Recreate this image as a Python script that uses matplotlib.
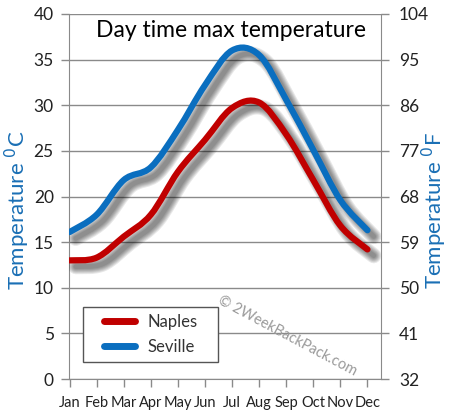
import matplotlib
matplotlib.use("Agg")
import matplotlib.pyplot as plt
import matplotlib.patheffects as pe
from matplotlib.path import Path
from matplotlib.patches import PathPatch, Rectangle
from matplotlib.lines import Line2D

months = ["Jan", "Feb", "Mar", "Apr", "May", "Jun", "Jul", "Aug", "Sep", "Oct", "Nov", "Dec"]
naples = [13.0, 13.3, 15.6, 18.0, 22.7, 26.2, 29.7, 30.3, 26.8, 21.8, 16.8, 14.2]
seville = [16.1, 18.0, 21.8, 23.2, 27.3, 32.2, 36.0, 35.5, 30.6, 25.1, 19.6, 16.3]
yticks_c = [0, 5, 10, 15, 20, 25, 30, 35, 40]
yticks_f = [32, 41, 50, 59, 68, 77, 86, 95, 104]

plt.rcParams['font.family'] = ['Lato', 'DejaVu Sans']

W, H = 449, 420
fig = plt.figure(figsize=(W/100, H/100), dpi=100)
ax = fig.add_axes([69/W, 1-379/H, (381-69)/W, (379-14)/H])

def smooth_path(xs, ys):
    pts = list(zip(xs, ys))
    verts = [pts[0]]
    codes = [Path.MOVETO]
    n = len(pts)
    for i in range(n-1):
        p0 = pts[i-1] if i > 0 else pts[i]
        p1 = pts[i]
        p2 = pts[i+1]
        p3 = pts[i+2] if i+2 < n else pts[i+1]
        c1 = (p1[0] + (p2[0]-p0[0])/6, p1[1] + (p2[1]-p0[1])/6)
        c2 = (p2[0] - (p3[0]-p1[0])/6, p2[1] - (p3[1]-p1[1])/6)
        verts += [c1, c2, p2]
        codes += [Path.CURVE4]*3
    return Path(verts, codes)

xs = list(range(len(months)))
shadow = [pe.SimpleLineShadow(offset=(4.5, -4.5), shadow_color='black', alpha=0.09, rho=1, linewidth=w)
          for w in (11, 9.5, 8, 6.5, 5, 3.5)]
for data, col in ((naples, '#c00000'), (seville, '#0a6ebf')):
    patch = PathPatch(smooth_path(xs, data), fill=False, edgecolor=col, lw=4.5,
                      capstyle='round', joinstyle='round', zorder=3,
                      path_effects=shadow + [pe.Normal()])
    ax.add_patch(patch)

ax.set_xlim(-0.02, 11.5)
ax.set_ylim(0, 40)
ax.set_xticks(xs)
ax.set_xticklabels(months, fontsize=10.5, color='#222222')
ax.set_yticks(yticks_c)
ax.set_yticklabels([str(v) for v in yticks_c], fontsize=12.5, color='#222222')
ax.yaxis.grid(True, color='#8a8a8a', lw=1)
ax.set_axisbelow(True)
for s in ax.spines.values():
    s.set_color('#8a8a8a')
ax.spines['top'].set_visible(False)
ax.tick_params(axis='both', color='#8a8a8a', length=6, width=1)
ax.tick_params(axis='y', pad=5)
ax.tick_params(axis='x', pad=6)

ax2 = ax.twinx()
ax2.set_ylim(32, 104)
ax2.set_yticks(yticks_f)
ax2.set_yticklabels([str(v) for v in yticks_f], fontsize=12.5, color='#222222')
ax2.tick_params(axis='y', color='#8a8a8a', length=6, width=1, pad=7)
for s in ax2.spines.values():
    s.set_visible(False)

blue = '#1a6fb5'
fig.text(17/W, 1-210/H, 'Temperature $^{0}$C', rotation=90, ha='center', va='center',
         fontsize=16, color=blue)
fig.text(434/W, 1-210/H, 'Temperature $^{0}$F', rotation=90, ha='center', va='center',
         fontsize=16, color=blue)

ax.text(0.52, 0.955, 'Day time max temperature', transform=ax.transAxes, ha='center', va='center',
        fontsize=16.5, color='black', zorder=5,
        bbox=dict(facecolor='white', edgecolor='none', pad=1))

fig.text(287/W, 1-336/H, '© 2WeekBackPack.com', rotation=-28, ha='center', va='center',
         fontsize=10.5, color='#9a9a9a')

# legend box
box = (14/312, 17/365, 135/312, 55/365)
ax.add_patch(Rectangle(box[:2], box[2], box[3], transform=ax.transAxes, facecolor='white',
                       edgecolor='#555555', lw=1, zorder=6))
handles = [Line2D([], [], color='#c00000', lw=5, solid_capstyle='round'),
           Line2D([], [], color='#0a6ebf', lw=5, solid_capstyle='round')]
leg = ax.legend(handles, ['Naples', 'Seville'], loc='center', bbox_to_anchor=box,
                fontsize=12, frameon=False, handlelength=1.9, borderpad=0.2,
                labelspacing=0.55, handletextpad=0.7, borderaxespad=0)
leg.set_zorder(7)
for t in leg.get_texts():
    t.set_color('#333333')

fig.savefig('out.png', dpi=100)
